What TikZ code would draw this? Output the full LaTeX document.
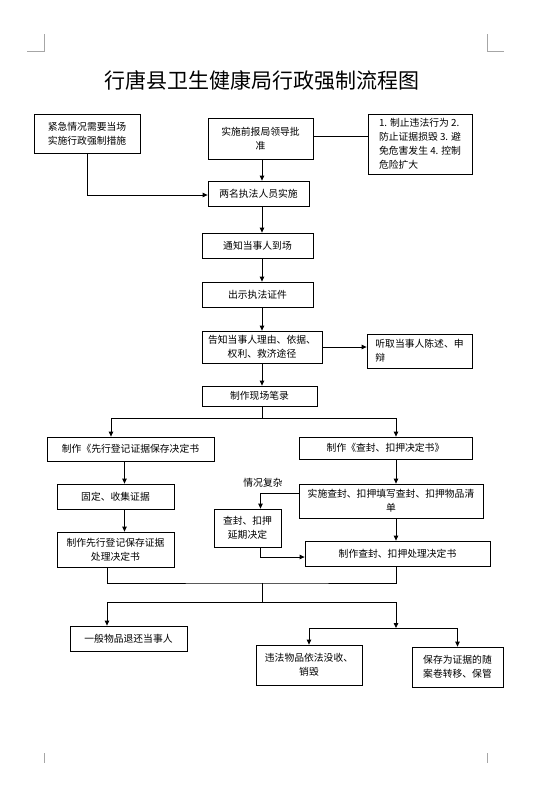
\documentclass[tikz,border=0pt]{standalone}
\usepackage{fontspec}
\setmainfont{Noto Sans CJK SC}
\usetikzlibrary{arrows.meta}

\begin{document}
\begin{tikzpicture}[
  x=1pt, y=-1pt,
  font=\fontsize{9.8}{14}\selectfont,
  box/.style={draw, line width=0.8pt, inner sep=2pt, align=center},
  arr/.style={-{Triangle[length=5pt,width=4.5pt]}, line width=0.8pt},
  link/.style={line width=0.8pt},
  crop/.style={gray!70, line width=0.6pt}
]
\useasboundingbox (0,0) rectangle (540,793);
% crop marks
\draw[crop] (27,51) -- (44,51) -- (44,34);
\draw[crop] (504,51) -- (487,51) -- (487,34);
\draw[crop] (44,753) -- (44,763);
\draw[crop] (487,753) -- (487,763);

\node[font=\fontsize{21}{24}\selectfont] (title) at (262,80) {行唐县卫生健康局行政强制流程图};

% top row
\node[box, minimum width=106pt, minimum height=39pt] (urgent) at (87,133.5) {紧急情况需要当场\\实施行政强制措施};
\node[box, minimum width=105pt, minimum height=41pt] (approve) at (260.5,138.5) {实施前报局领导批\\准};
\node[box, align=left, minimum width=104pt, minimum height=60pt] (purpose) at (420,144) {1. 制止违法行为 2.\\防止证据损毁 3. 避\\免危害发生 4. 控制\\危险扩大};

% main column
\node[box, minimum width=101pt, minimum height=25pt] (officers) at (258.5,193.5) {两名执法人员实施};
\node[box, minimum width=111pt, minimum height=25pt] (notify) at (257.5,245.5) {通知当事人到场};
\node[box, minimum width=111pt, minimum height=25pt] (showid) at (257.5,294.5) {出示执法证件};
\node[box, minimum width=120pt, minimum height=32pt] (inform) at (262,347) {告知当事人理由、依据、\\权利、救济途径};
\node[box, align=left, minimum width=105pt, minimum height=34pt] (hear) at (419.5,351) {听取当事人陈述、申\\辩};
\node[box, minimum width=115pt, minimum height=20pt] (record) at (259.5,396) {制作现场笔录};

% two branches
\node[box, minimum width=167pt, minimum height=24pt] (regsave) at (130.5,449) {制作《先行登记证据保存决定书};
\node[box, minimum width=173pt, minimum height=22pt] (sealdec) at (385.5,448) {制作《查封、扣押决定书》};
\node[box, minimum width=117pt, minimum height=25pt] (fixev) at (115.5,496.5) {固定、收集证据};
\node[box, minimum width=117pt, minimum height=35pt] (regdeal) at (115.5,549.5) {制作先行登记保存证据\\处理决定书};
\node (complex) at (263,483) {情况复杂};
\node[box, minimum width=184pt, minimum height=34pt] (sealdo) at (391,501) {实施查封、扣押填写查封、扣押物品清\\单};
\node[box, minimum width=67pt, minimum height=38pt] (extend) at (247.5,528) {查封、扣押\\延期决定};
\node[box, minimum width=185pt, minimum height=25pt] (sealdeal) at (397.5,553.5) {制作查封、扣押处理决定书};

% results
\node[box, minimum width=117pt, minimum height=25pt] (giveback) at (128.5,638.5) {一般物品退还当事人};
\node[box, minimum width=106pt, minimum height=40pt] (confisc) at (309,665) {违法物品依法没收、\\销毁};
\node[box, minimum width=91pt, minimum height=40pt] (keep) at (457.5,667) {保存为证据的随\\案卷转移、保管};

% lanes and joints
\coordinate (spine) at (262,0);
\coordinate (laneA) at (111,0);
\coordinate (laneB) at (124.5,0);
\coordinate (laneC) at (107,0);
\coordinate (laneD) at (260.5,0);
\coordinate (laneR) at (396,0);
\coordinate (split) at (262,418);
\coordinate (merge) at (262,583);
\coordinate (fork) at (262,602);
\coordinate (fork2) at (396,628);

\draw[arr] (spine |- approve.south) -- (spine |- officers.north);
\draw[arr] (urgent.south) |- ([yshift=-1.5pt]officers.west);
\draw[link] ([yshift=2pt]approve.east) -- ([yshift=2pt]approve.east -| purpose.west);
\draw[arr] (spine |- officers.south) -- (spine |- notify.north);
\draw[arr] (spine |- notify.south) -- (spine |- showid.north);
\draw[arr] (spine |- showid.south) -- (spine |- inform.north);
\draw[arr] (inform.east) -- (inform.east -| hear.west);
\draw[arr] (spine |- inform.south) -- (spine |- record.north);
\draw[link] (spine |- record.south) -- (split);
\draw[arr] (split) -| (laneA |- regsave.north);
\draw[arr] (split) -| (laneR |- sealdec.north);
\draw[arr] (laneB |- regsave.south) -- (laneB |- fixev.north);
\draw[arr] (laneB |- fixev.south) -- (laneB |- regdeal.north);
\draw[arr] (laneR |- sealdec.south) -- (laneR |- sealdo.north);
\draw[arr] ([yshift=8pt]sealdo.west) -| (laneD |- extend.north);
\draw[arr] (laneR |- sealdo.south) -- (laneR |- sealdeal.north);
\draw[arr] (laneD |- extend.south) |- ([yshift=-3.5pt]sealdeal.west);
\draw[link] (laneC |- regdeal.south) |- (merge) -| (laneR |- sealdeal.south);
\draw[link] (merge) -- (fork);
\draw[arr] (fork) -| (laneC |- giveback.north);
\draw[arr] (fork) -| (fork2);
\draw[arr] (fork2) -| (confisc.north);
\draw[arr] (fork2) -| (keep.north);
\end{tikzpicture}
\end{document}
